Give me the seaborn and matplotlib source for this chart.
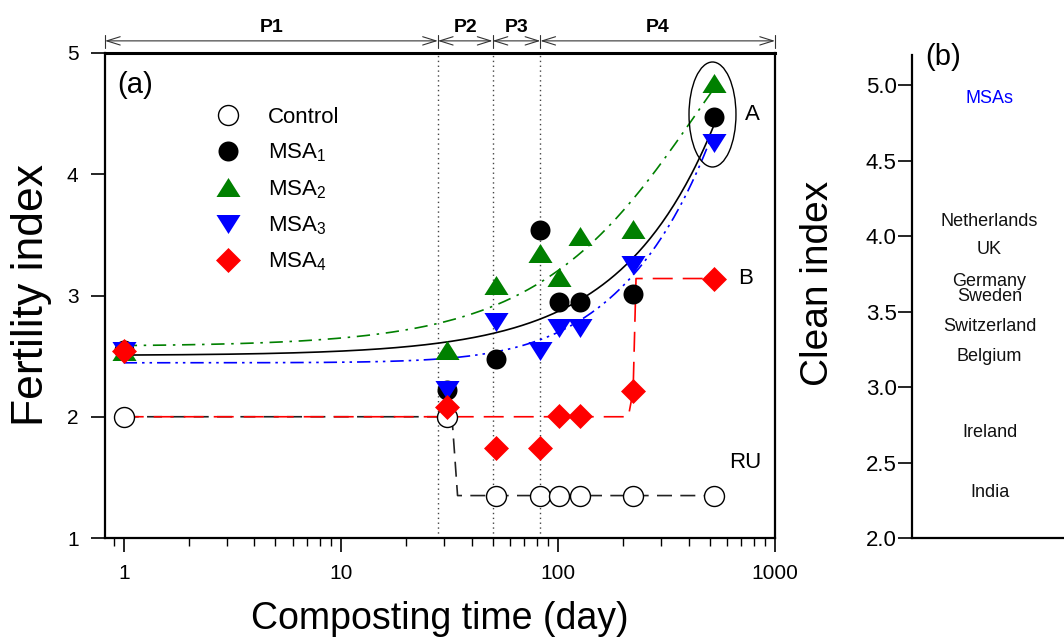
import numpy as np
import matplotlib
matplotlib.use("Agg")
import matplotlib.pyplot as plt
import matplotlib.transforms as mtrans
from matplotlib.lines import Line2D
from matplotlib.patches import Ellipse
from matplotlib.ticker import LogLocator, NullFormatter, FixedLocator
import seaborn as sns

sns.set_theme(style="ticks")
plt.rcParams["font.family"] = ["Liberation Sans", "DejaVu Sans"]
plt.rcParams["mathtext.default"] = "regular"
plt.rcParams["axes.edgecolor"] = "black"
plt.rcParams["xtick.color"] = "black"
plt.rcParams["ytick.color"] = "black"
plt.rcParams["text.color"] = "black"
plt.rcParams["axes.labelcolor"] = "black"

# ---------------- data ----------------
days = [1, 31, 52, 83, 101, 126, 222, 524]
control = [2.00, 2.00, 1.35, 1.35, 1.35, 1.35, 1.35, 1.35]
msa1 = [2.55, 2.22, 2.48, 3.54, 2.95, 2.95, 3.01, 4.47]
msa2 = [2.54, 2.55, 3.09, 3.35, 3.15, 3.49, 3.55, 4.75]
msa3 = [2.54, 2.22, 2.78, 2.54, 2.73, 2.73, 3.25, 4.26]
msa4 = [2.54, 2.08, 1.74, 1.74, 2.01, 2.01, 2.21, 3.14]

# step (dashed) guide lines
control_step_x = [1, 32.5, 34.5, 524]
control_step_y = [2.00, 2.00, 1.35, 1.35]
msa4_step_x = [1, 211, 222, 229, 524]
msa4_step_y = [2.00, 2.00, 2.21, 3.14, 3.14]

# fitted trend parameters
fit1 = (2.505, 0.00363)          # y = a + b t
fit2 = (2.58, 3.04, 0.0023)      # y = a + b (1 - exp(-k t))
fit3 = (2.445, 0.00397, 40.0)    # y = a + m (t - tau (1 - exp(-t/tau)))
fit_range = (1, 520)

phase_bounds = [0.82, 28, 50, 83, 1000]
phase_labels = ["P1", "P2", "P3", "P4"]

countries = ["MSAs", "Netherlands", "UK", "Germany", "Sweden",
             "Switzerland", "Belgium", "Ireland", "India"]
clean_index = [4.91, 4.10, 3.91, 3.70, 3.60, 3.40, 3.20, 2.70, 2.30]
country_colors = ["blue"] + ["#111111"] * 8

# ---------------- styles ----------------
GREEN = "#008000"
BLUE = "#0000ff"
RED = "#ff0000"
tri_up = [(-1, -0.79), (1, -0.79), (0, 0.79)]
tri_dn = [(-1, 0.79), (1, 0.79), (0, -0.79)]
diamond = [(0, 1), (1, 0), (0, -1), (-1, 0)]

W, H = 1064, 641
fig = plt.figure(figsize=(W / 100, H / 100), dpi=100)

def fx(px):
    return px / W

def fy(py):
    return 1 - py / H

ax = fig.add_axes([fx(105), fy(538), fx(775) - fx(105), fy(53) - fy(538)])

# vertical dotted phase lines
for b in phase_bounds[1:-1]:
    ax.axvline(b, color="#444444", ls=(0, (1, 2.5)), lw=1.0, zorder=1)

# step lines
sns.lineplot(x=control_step_x, y=control_step_y, ax=ax, color="#222222",
             lw=1.2, linestyle=(0, (9, 5)), estimator=None, sort=False, zorder=2)
sns.lineplot(x=msa4_step_x, y=msa4_step_y, ax=ax, color=RED,
             lw=1.2, linestyle=(0, (12, 6)), estimator=None, sort=False, zorder=2)

# fitted curves
tf = np.geomspace(fit_range[0], fit_range[1], 300)
y1 = fit1[0] + fit1[1] * tf
y2 = fit2[0] + fit2[1] * (1 - np.exp(-fit2[2] * tf))
y3 = fit3[0] + fit3[1] * (tf - fit3[2] * (1 - np.exp(-tf / fit3[2])))
sns.lineplot(x=tf, y=y1, ax=ax, color="black", lw=1.2, estimator=None, sort=False, zorder=2)
sns.lineplot(x=tf, y=y2, ax=ax, color=GREEN, lw=1.2, linestyle=(0, (8, 4, 1.5, 4)),
             estimator=None, sort=False, zorder=2)
sns.lineplot(x=tf, y=y3, ax=ax, color=BLUE, lw=1.2, linestyle=(0, (8, 3, 1.5, 3, 1.5, 3)),
             estimator=None, sort=False, zorder=2)

# markers
sns.scatterplot(x=days, y=control, ax=ax, marker="o", s=207, facecolor="white",
                edgecolor="black", linewidth=1.0, zorder=3)
sns.scatterplot(x=days, y=msa1, ax=ax, marker="o", s=207, color="black",
                edgecolor="black", linewidth=0, zorder=4)
sns.scatterplot(x=days, y=msa2, ax=ax, marker=tri_up, s=300, color=GREEN,
                edgecolor=GREEN, linewidth=0, zorder=5)
sns.scatterplot(x=days, y=msa3, ax=ax, marker=tri_dn, s=300, color=BLUE,
                edgecolor=BLUE, linewidth=0, zorder=6)
sns.scatterplot(x=days, y=msa4, ax=ax, marker=diamond, s=324, color=RED,
                edgecolor=RED, linewidth=0, zorder=7)

ax.set_xscale("log")
ax.set_xlim(phase_bounds[0], phase_bounds[-1])
ax.set_ylim(1, 5)
ax.xaxis.set_major_locator(FixedLocator([1, 10, 100, 1000]))
ax.set_xticklabels(["1", "10", "100", "1000"])
ax.xaxis.set_minor_locator(LogLocator(base=10, subs=np.arange(2, 10)))
ax.xaxis.set_minor_formatter(NullFormatter())
ax.set_yticks([1, 2, 3, 4, 5])
ax.set_yticklabels(["1", "2", "3", "4", "5"])
ax.tick_params(axis="both", which="major", direction="out", length=10, width=1.2, labelsize=15)
ax.tick_params(axis="x", which="major", pad=9)
ax.tick_params(axis="y", which="major", pad=9)
ax.tick_params(axis="x", which="minor", direction="out", length=6, width=1.0)
ax.tick_params(axis="y", which="minor", left=False)
for side in ["left", "right", "bottom"]:
    ax.spines[side].set_linewidth(1.6)
ax.spines["top"].set_linewidth(2.2)
ax.set_xlabel("")
ax.set_ylabel("")
ax.grid(False)

# phase arrows on top
trans = mtrans.blended_transform_factory(ax.transData, ax.transAxes)
for i, lab in enumerate(phase_labels):
    x0, x1 = phase_bounds[i], phase_bounds[i + 1]
    ax.annotate("", xy=(x1, 1.025), xytext=(x0, 1.025), xycoords=trans, textcoords=trans,
                arrowprops=dict(arrowstyle="<->,head_length=0.8,head_width=0.25", lw=0.8,
                                color="#333333", shrinkA=0, shrinkB=0),
                annotation_clip=False)
    ax.text(np.sqrt(x0 * x1), 1.052, lab, transform=trans, ha="center", va="center",
            fontsize=14, fontweight="bold", clip_on=False)
for b in phase_bounds:
    ax.plot([b, b], [1.01, 1.038], transform=trans, color="#333333", lw=0.8, clip_on=False)

# annotations
ax.add_patch(Ellipse((0.9067, 0.8732), 0.0701, 0.2165, transform=ax.transAxes,
                     fill=False, lw=1.0, ec="black", zorder=8))
ax.text(783, 4.49, "A", fontsize=16, ha="center", va="center")
ax.text(728, 3.14, "B", fontsize=16, ha="center", va="center")
ax.text(728, 1.62, "RU", fontsize=16, ha="center", va="center")
ax.text(0.018, 0.935, "(a)", transform=ax.transAxes, fontsize=21, ha="left", va="center")

# legend
handles = [
    Line2D([], [], ls="none", marker="o", ms=14.4, mfc="white", mec="black", mew=1.0),
    Line2D([], [], ls="none", marker="o", ms=14.4, mfc="black", mec="black", mew=0),
    Line2D([], [], ls="none", marker=tri_up, ms=17.3, mfc=GREEN, mec=GREEN, mew=0),
    Line2D([], [], ls="none", marker=tri_dn, ms=17.3, mfc=BLUE, mec=BLUE, mew=0),
    Line2D([], [], ls="none", marker=diamond, ms=18, mfc=RED, mec=RED, mew=0),
]
labels = ["Control", "MSA$_1$", "MSA$_2$", "MSA$_3$", "MSA$_4$"]
ax.legend(handles, labels, loc="upper left", bbox_to_anchor=(0.167, 0.889), frameon=False,
          fontsize=16, handlelength=1.0, handletextpad=1.3, labelspacing=0.62,
          borderpad=0, borderaxespad=0)

fig.text(fx(32), fy(295), "Fertility index", rotation=90, ha="center", va="center", fontsize=32)
fig.text(fx(440), fy(619), "Composting time (day)", ha="center", va="center", fontsize=27)

# ---------------- panel (b) ----------------
ax2 = fig.add_axes([fx(912), fy(538), 1 - fx(912), fy(55) - fy(538)])
ax2.set_xlim(0, 1)
ax2.set_ylim(2.0, 5.2)
ax2.set_yticks([2.0, 2.5, 3.0, 3.5, 4.0, 4.5, 5.0])
ax2.set_yticklabels(["2.0", "2.5", "3.0", "3.5", "4.0", "4.5", "5.0"])
ax2.set_xticks([])
ax2.tick_params(axis="y", direction="out", length=10, width=1.2, labelsize=16, pad=1)
ax2.spines["top"].set_visible(False)
ax2.spines["right"].set_visible(False)
ax2.spines["left"].set_linewidth(1.6)
ax2.spines["bottom"].set_linewidth(1.6)
for name, val, col in zip(countries, clean_index, country_colors):
    ax2.text(0.51, val, name, ha="center", va="center", fontsize=13, color=col)
ax2.text(0.204, 0.996, "(b)", transform=ax2.transAxes, fontsize=21, ha="center",
         va="center", clip_on=False)
fig.text(fx(818), fy(283), "Clean index", rotation=90, ha="center", va="center", fontsize=28)

fig.savefig("out.png", dpi=100)
